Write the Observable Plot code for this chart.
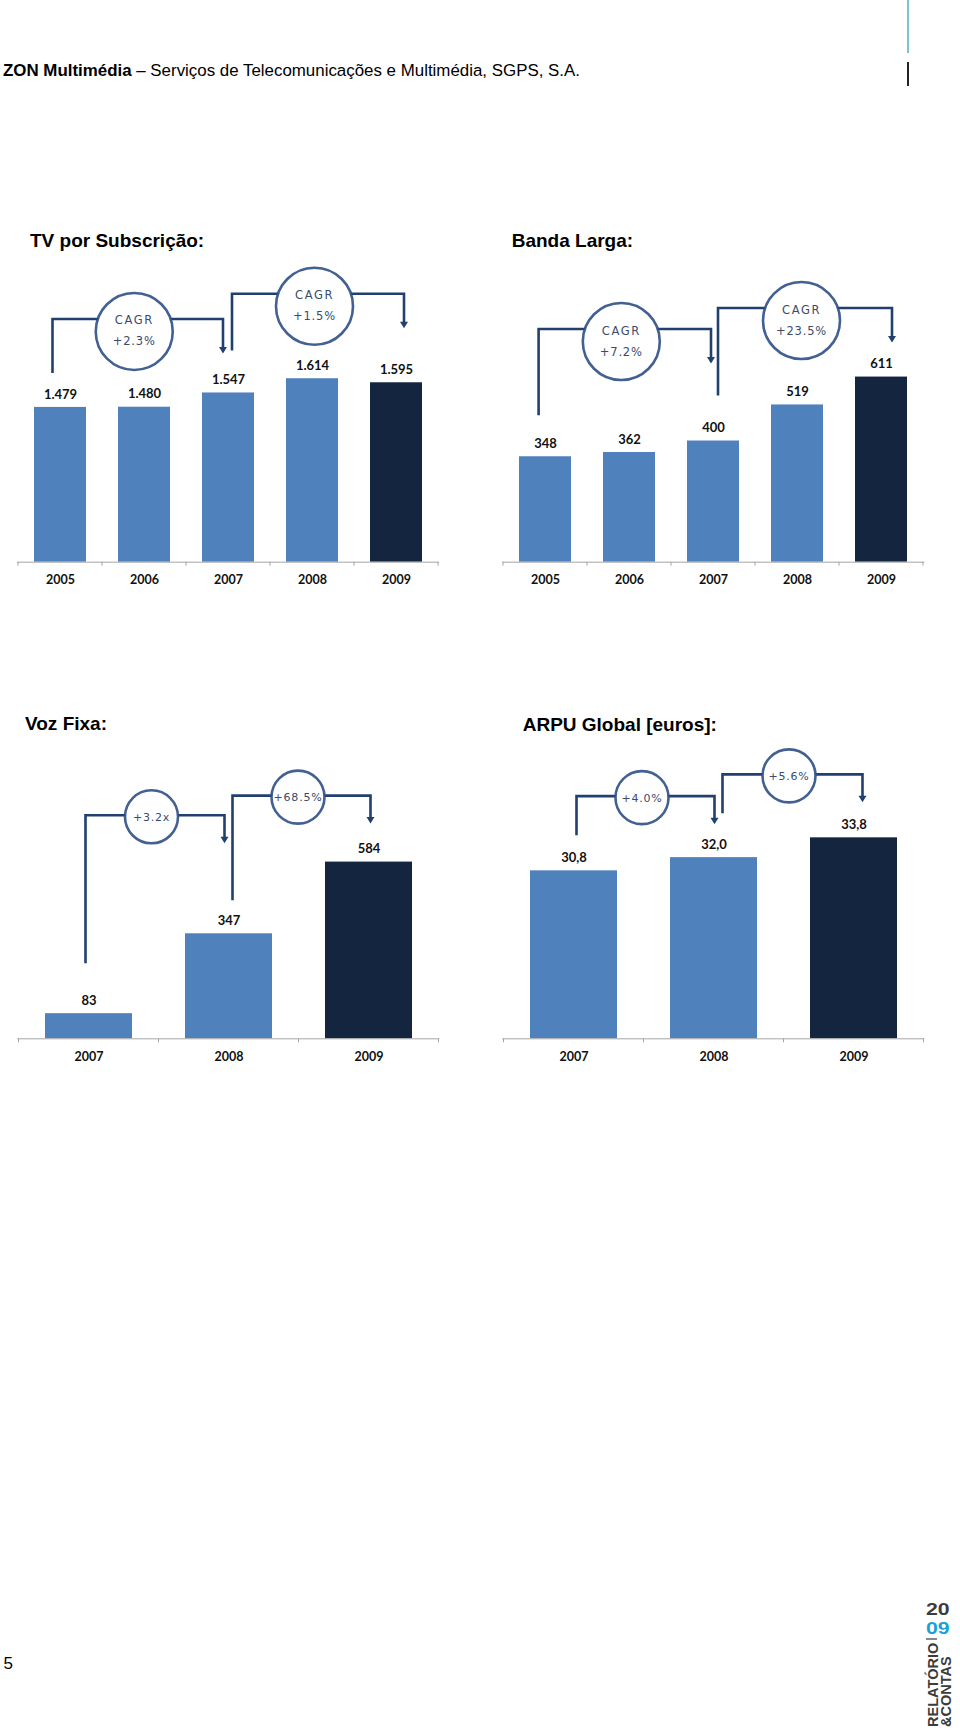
<!DOCTYPE html>
<html>
<head>
<meta charset="utf-8">
<script src="https://cdn.jsdelivr.net/npm/d3@7"></script>
<script src="https://cdn.jsdelivr.net/npm/@observablehq/plot@0.6"></script>
<style>
  body { margin: 0; background: #fff; }
  #page { position: relative; width: 960px; height: 1730px; overflow: hidden; background: #fff; }
  .chart { position: absolute; }
  #overlay { position: absolute; left: 0; top: 0; pointer-events: none; z-index: 5; }
</style>
</head>
<body>
<div id="page">
  <svg id="overlay" width="960" height="1730" xmlns="http://www.w3.org/2000/svg">
    <line x1="908" y1="0" x2="908" y2="53" stroke="#5fb3c4" stroke-width="1.6"/>
    <line x1="908" y1="62" x2="908" y2="86" stroke="#222" stroke-width="2"/>
    <text x="3" y="76" font-family="Liberation Sans, Arial, sans-serif" font-size="16.9" fill="#000"><tspan font-weight="bold">ZON Multimédia</tspan> – Serviços de Telecomunicações e Multimédia, SGPS, S.A.</text>
    <g font-family="Liberation Sans, Arial, sans-serif" font-size="19" font-weight="bold" fill="#000">
      <text x="30" y="247.3">TV por Subscrição:</text>
      <text x="511.7" y="247.3">Banda Larga:</text>
      <text x="25" y="730">Voz Fixa:</text>
      <text x="522.7" y="730.5">ARPU Global [euros]:</text>
    </g>
    <text x="3.5" y="1669.3" font-family="Liberation Sans, Arial, sans-serif" font-size="17" fill="#000">5</text>
    <g font-family="Liberation Sans, Arial, sans-serif" font-weight="bold">
      <text transform="translate(926 0) scale(1.25 1)" x="0" y="1615" font-size="17" fill="#3c3c3c">20</text>
      <text transform="translate(926 0) scale(1.25 1)" x="0" y="1634" font-size="17" fill="#1e9fd8">09</text>
      <line x1="926" y1="1639" x2="937" y2="1639" stroke="#3c3c3c" stroke-width="1.2"/>
      <text transform="translate(937.5,1727) rotate(-90)" font-size="14.5" fill="#3c3c3c">RELATÓRIO</text>
      <text transform="translate(951,1727) rotate(-90)" font-size="14.5" fill="#3c3c3c">&amp;CONTAS</text>
    </g>
  </svg>
</div>
<script>
// ---------- DATA ----------
const tvYears = ["2005", "2006", "2007", "2008", "2009"];
const tvValues = [1479, 1480, 1547, 1614, 1595];
const tvGrowth = [
  {from: "2005", to: "2007", lines: ["CAGR", "+2.3%"]},
  {from: "2007", to: "2009", lines: ["CAGR", "+1.5%"]}
];

const blYears = ["2005", "2006", "2007", "2008", "2009"];
const blValues = [348, 362, 400, 519, 611];
const blGrowth = [
  {from: "2005", to: "2007", lines: ["CAGR", "+7.2%"]},
  {from: "2007", to: "2009", lines: ["CAGR", "+23.5%"]}
];

const vfYears = ["2007", "2008", "2009"];
const vfValues = [83, 347, 584];
const vfGrowth = [
  {from: "2007", to: "2008", lines: ["+3.2x"]},
  {from: "2008", to: "2009", lines: ["+68.5%"]}
];

const arpuYears = ["2007", "2008", "2009"];
const arpuValues = [30.8, 32.0, 33.8];
const arpuGrowth = [
  {from: "2007", to: "2008", lines: ["+4.0%"]},
  {from: "2008", to: "2009", lines: ["+5.6%"]}
];

// ---------- FORMATS ----------
const pt = d3.formatLocale({decimal: ",", thousands: ".", grouping: [3], currency: ["", " €"]});
const fmtInt = pt.format(",d");
const fmt1 = pt.format(",.1f");

// ---------- LAYOUT / STYLE ----------
const LIGHT = "#4f81bd", DARK = "#14263f";
const LINE = "#21406f", RING = "#2d4f85", RINGTEXT = "#3b4b6b", AXIS = "#a6a6a6";
const LABEL_FONT = "Lato, 'Open Sans', sans-serif";
const RING_FONT = "'DejaVu Sans', Verdana, sans-serif";

const charts = [
  {cats: tvYears, vals: tvValues, growth: tvGrowth, fmt: fmtInt,
   box: {left: 0, top: 250, width: 480, height: 350}, m: {left: 17, right: 41, bottom: 38.3},
   yMin: 751, ppu: 0.2126, tickDy: 21.5,
   ann: {lineAbove: 34.5, circleDy: 12.5, r: 38.5, gaps: [[34, 39], [42, 54]], dx: [[-7.5, -5], [4, 8]]}},
  {cats: blYears, vals: blValues, growth: blGrowth, fmt: fmtInt,
   box: {left: 480, top: 250, width: 480, height: 350}, m: {left: 22.3, right: 35.7, bottom: 38.3},
   yMin: 0, ppu: 0.303, tickDy: 21.5,
   ann: {lineAbove: 34.5, circleDy: 12.5, r: 38.5, gaps: [[41, 77], [45, 34]], dx: [[-6.4, -2], [5, 11]]}},
  {cats: vfYears, vals: vfValues, growth: vfGrowth, fmt: fmtInt,
   box: {left: 0, top: 740, width: 480, height: 340}, m: {left: 17.3, right: 40.7, bottom: 41.7},
   yMin: 0, ppu: 0.3026, tickDy: 22.4,
   ann: {lineAbove: 28, circleDy: 1.5, r: 26.5, gaps: [[50, 90], [33, 38]], dx: [[-3, -4], [4, 2]]}},
  {cats: arpuYears, vals: arpuValues, growth: arpuGrowth, fmt: fmt1,
   box: {left: 480, top: 740, width: 480, height: 340}, m: {left: 22.3, right: 35.7, bottom: 41.7},
   yMin: 15.53, ppu: 11, tickDy: 22.4,
   ann: {lineAbove: 28, circleDy: 1.5, r: 26.5, gaps: [[35, 33], [44, 35]], dx: [[3, 1], [9, 9]]}}
];

function decor(cfg) {
  const valueOf = new Map(cfg.cats.map((c, i) => [c, cfg.vals[i]]));
  return function (...args) {
    const scales = args.find(a => a && typeof a.x === "function" && typeof a.y === "function");
    const {x, y} = scales;
    const bw = typeof x.bandwidth === "function" ? x.bandwidth() : x.bandwidth;
    const step = typeof x.step === "function" ? x.step() : bw / (1 - 0.38);
    const cx = c => x(c) + bw / 2;
    const g = d3.create("svg:g");
    // axis tick marks at band boundaries
    const base = y(cfg.yMin);
    const bounds = cfg.cats.map(c => cx(c) - step / 2).concat([cx(cfg.cats[cfg.cats.length - 1]) + step / 2]);
    g.append("g").selectAll("line").data(bounds).join("line")
      .attr("x1", d => d).attr("x2", d => d)
      .attr("y1", base).attr("y2", base + 4)
      .attr("stroke", AXIS).attr("stroke-width", 1);
    // growth annotations
    cfg.growth.forEach((gr, i) => {
      const a = cfg.ann;
      const [sg, tg] = a.gaps[i];
      const [dxs, dxe] = a.dx[i];
      const x0 = cx(gr.from) + dxs, x1 = cx(gr.to) + dxe;
      const y0 = y(valueOf.get(gr.from)) - sg;
      const yTip = y(valueOf.get(gr.to)) - tg;
      const yLine = yTip - a.lineAbove;
      g.append("path")
        .attr("d", `M${x0},${y0}V${yLine}H${x1}V${yTip - 5}`)
        .attr("fill", "none").attr("stroke", LINE).attr("stroke-width", 2.6);
      g.append("path")
        .attr("d", `M${x1 - 4},${yTip - 6.5}L${x1 + 4},${yTip - 6.5}L${x1},${yTip}Z`)
        .attr("fill", LINE);
      const ccx = (x0 + x1) / 2 - 3.5, ccy = yLine + a.circleDy;
      g.append("circle").attr("cx", ccx).attr("cy", ccy).attr("r", a.r)
        .attr("fill", "#fff").attr("stroke", RING).attr("stroke-width", 2.6).attr("stroke-opacity", 0.9);
      const n = gr.lines.length;
      gr.lines.forEach((t, j) => {
        const off = n === 2 ? (j === 0 ? -11 : 10) : 0.5;
        g.append("text").attr("x", ccx).attr("y", ccy + off)
          .attr("text-anchor", "middle").attr("dominant-baseline", "central")
          .attr("font-family", RING_FONT).attr("font-size", n === 2 ? 11.5 : 11)
          .attr("letter-spacing", n === 2 && j === 0 ? 1.6 : 0.8)
          .attr("fill", RINGTEXT).text(t);
      });
    });
    return g.node();
  };
}

const page = document.getElementById("page");
for (const cfg of charts) {
  const last = cfg.cats[cfg.cats.length - 1];
  const rows = cfg.cats.map((c, i) => ({year: c, value: cfg.vals[i], fill: c === last ? DARK : LIGHT}));
  const plotH = cfg.box.height - cfg.m.bottom;
  const yMax = cfg.yMin + plotH / cfg.ppu;
  const chart = Plot.plot({
    width: cfg.box.width,
    height: cfg.box.height,
    marginLeft: cfg.m.left,
    marginRight: cfg.m.right,
    marginTop: 0,
    marginBottom: cfg.m.bottom,
    style: {background: "transparent", overflow: "visible"},
    x: {type: "band", domain: cfg.cats, paddingInner: 0.38, paddingOuter: 0.19, axis: null},
    y: {domain: [cfg.yMin, yMax], axis: null},
    marks: [
      Plot.barY(rows, {x: "year", y1: cfg.yMin, y2: "value", fill: d => d.fill, inset: 0}),
      Plot.ruleY([cfg.yMin], {stroke: AXIS, strokeWidth: 1}),
      Plot.text(rows, {x: "year", y: "value", text: d => cfg.fmt(d.value), dy: -13,
        fontFamily: LABEL_FONT, fontWeight: "bold", fontSize: 13, fill: "#111"}),
      Plot.text(cfg.cats, {x: d => d, text: d => d, frameAnchor: "bottom", dy: cfg.tickDy,
        fontFamily: LABEL_FONT, fontWeight: "bold", fontSize: 12.5, fill: "#111"}),
      decor(cfg)
    ]
  });
  const div = document.createElement("div");
  div.className = "chart";
  div.style.left = cfg.box.left + "px";
  div.style.top = cfg.box.top + "px";
  div.style.width = cfg.box.width + "px";
  div.style.height = cfg.box.height + "px";
  div.appendChild(chart);
  page.appendChild(div);
}
</script>
</body>
</html>
